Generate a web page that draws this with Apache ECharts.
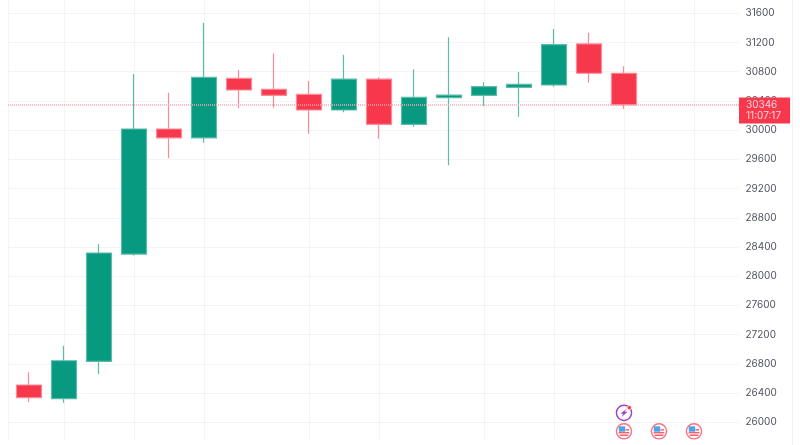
<!DOCTYPE html>
<html><head><meta charset="utf-8">
<style>html,body{margin:0;padding:0;background:#fff}#c{width:800px;height:445px}</style>
<script src="https://cdn.jsdelivr.net/npm/echarts@6/dist/echarts.min.js"></script></head>
<body><div id="c"></div>
<script>
const slots=[0,1,2,3,4,5,6,7,8,9,10,11,12,13,14,15,16,17];
const opens=[26511,26323,26835,28304,30016,29893,30710,30560,30491,30276,30700,30080,30444,30477,30587,30618,31180,30779];
const closes=[26337,26843,28318,30016,29893,30724,30550,30477,30276,30700,30080,30450,30481,30595,30628,31170,30779,30346];
const lows=[26274,26268,26657,28284,29615,29828,30299,30308,29952,30245,29883,30048,29519,30331,30184,30595,30650,30290];
const highs=[26685,27049,28441,30769,30513,31471,30824,31052,30673,31033,30724,30833,31271,30655,30796,31385,31334,30874];
const yTicks=[26000,26400,26800,27200,27600,28000,28400,28800,29200,29600,30000,30400,30800,31200,31600];
const xLines=[-0.6,1,3,5,8,10,13,15,17,19];
const lastPrice=30346, countdown='11:07:17';
const flagEvents=[[17,25877],[18,25877],[19,25877]];
const boltEvents=[[17,26130]];
const green='#089981',red='#f7374c',greenB='#5cbcaa',redB='#f98b98';
const chart=echarts.init(document.getElementById('c'),null,{renderer:'canvas'});
function flag(p,api){
  const c=api.coord([api.value(0),api.value(1)]),x=c[0],y=c[1];
  const r='#f7606f';
  return {type:'group',children:[
    {type:'circle',shape:{cx:x,cy:y,r:7.6},style:{fill:'#fff',stroke:'#f8717f',lineWidth:1.4}},
    {type:'rect',shape:{x:x-5.4,y:y+.6,width:10.8,height:1.5},style:{fill:r}},
    {type:'rect',shape:{x:x-4.4,y:y+3.2,width:8.8,height:1.5},style:{fill:r}},
    {type:'rect',shape:{x:x+1.5,y:y-2.2,width:3.6,height:1.5},style:{fill:r}},
    {type:'rect',shape:{x:x-5.2,y:y-5,width:6.4,height:5.4},style:{fill:'#4da3e8'}}
  ]};
}
function bolt(p,api){
  const c=api.coord([api.value(0),api.value(1)]),x=c[0],y=c[1];
  return {type:'group',children:[
    {type:'circle',shape:{cx:x,cy:y,r:7.6},style:{fill:'#fff',stroke:'#a23fc8',lineWidth:1.4}},
    {type:'polygon',shape:{points:[[x+3,y-4.4],[x-3.6,y+1],[x-.6,y+1],[x-2.6,y+4.4],[x+3.6,y-1.2],[x+.6,y-1.2]]},style:{fill:'#a23fc8'}},
    {type:'circle',shape:{cx:x+5.3,cy:y-5.2,r:2.1},style:{fill:'#f7374c',stroke:'#fff',lineWidth:.6}}
  ]};
}
chart.setOption({
  animation:false,backgroundColor:'#fff',
  grid:{left:8,right:61,top:0,bottom:5},
  xAxis:{type:'value',min:-0.6,max:20.286,
    axisLine:{show:false},axisLabel:{show:false},
    axisTick:{show:false,customValues:xLines},
    splitLine:{show:true,lineStyle:{color:'#f3f4f6',width:1}}},
  yAxis:{type:'value',position:'right',min:25758,max:31782,
    axisLine:{show:false},
    axisTick:{show:false,customValues:yTicks},
    axisLabel:{customValues:yTicks,color:'#50535e',fontFamily:'Inter',fontSize:10,margin:6.5,padding:[0,0,2,0],
      showMinLabel:true,showMaxLabel:true,formatter:v=>String(v)},
    splitLine:{show:true,lineStyle:{color:'#f3f4f6',width:1}}},
  series:[
    {type:'candlestick',barWidth:26,
     data:slots.map((s,i)=>[s,opens[i],closes[i],lows[i],highs[i]]),
     encode:{x:0,y:[1,2,3,4]},
     itemStyle:{color:green,color0:red,borderColor:greenB,borderColor0:redB,borderWidth:1.2},
     markLine:{silent:true,symbol:'none',animation:false,
       data:[{yAxis:lastPrice}],
       lineStyle:{color:'#fba5ae',type:[1,1],width:1.5,opacity:1},
       label:{position:'end',distance:0,offset:[0,5.5],opacity:1,
         formatter:'{a|'+lastPrice+'}\n{b|'+countdown+'}',
         backgroundColor:'#f7374c',padding:[2,9,2,7],align:'left',
         rich:{a:{color:'#fdd5da',fontFamily:'Inter',fontSize:10,lineHeight:11},
               b:{color:'#fdd5da',fontFamily:'Inter',fontSize:10,lineHeight:11}}}}},
    {type:'custom',data:flagEvents,renderItem:flag,clip:false,silent:true,encode:{x:0,y:1}},
    {type:'custom',data:boltEvents,renderItem:bolt,clip:false,silent:true,encode:{x:0,y:1}}
  ],
  graphic:[{type:'rect',silent:true,shape:{x:792,y:0,width:1,height:445},style:{fill:'#f0f1f5'}}]
});
</script></body></html>
